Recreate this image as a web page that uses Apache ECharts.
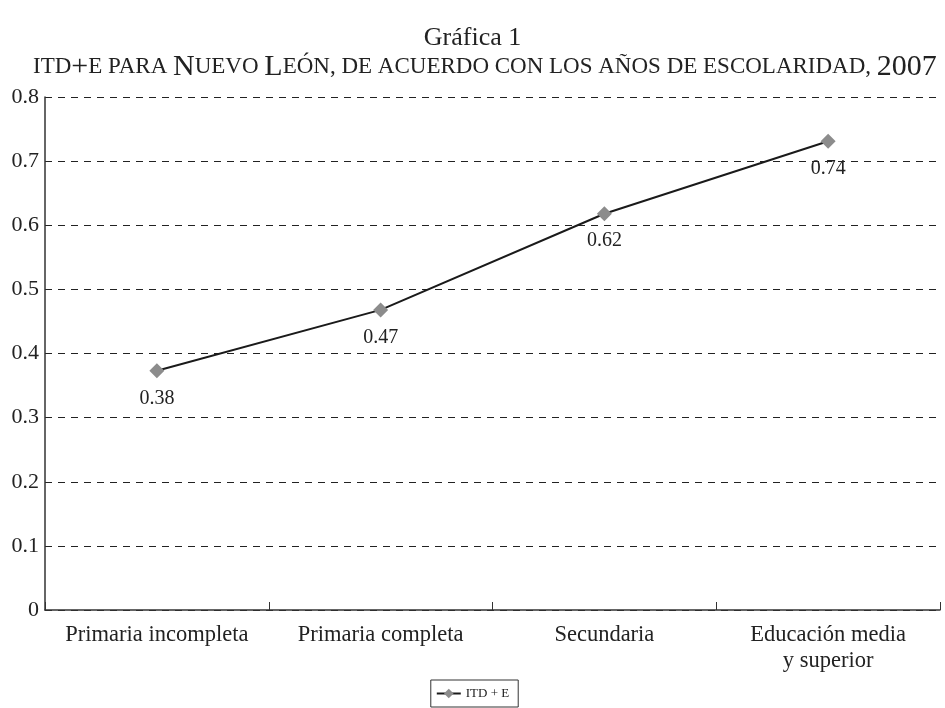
<!DOCTYPE html>
<html lang='es'>
  <head>
    <meta charset='utf-8'>
    <title>Gráfica 1</title>
    <style>
      html, body { margin: 0; padding: 0; background: #fff; }
    </style>
  </head>
  <body>
    <div id="main" style="width:945px;height:708px;"></div>

    <script src="https://cdn.jsdelivr.net/npm/echarts@6/dist/echarts.min.js"></script>
    <script>
      // datos
      var categorias = ['Primaria incompleta', 'Primaria completa', 'Secundaria', 'Educación media\ny superior'];
      var valores = [0.373, 0.468, 0.618, 0.731];
      var etiquetas = ['0.38', '0.47', '0.62', '0.74'];
      var serieNombre = 'ITD + E';

      var fuente = '"Liberation Serif", "DejaVu Serif", serif';

      var myChart = echarts.init(document.getElementById('main'));

      var option = {
        backgroundColor: '#fff',
        animation: false,
        title: [{
          text: 'Gráfica 1',
          left: 'center',
          top: 20,
          textStyle: { fontFamily: fuente, fontSize: 26, fontWeight: 'normal', color: '#222' }
        }, {
          // versalitas simuladas con texto enriquecido
          text: '{s|ITD}{b|+}{s|E PARA }{b|N}{s|UEVO }{b|L}{s|EÓN, DE ACUERDO CON LOS AÑOS DE ESCOLARIDAD, }{b|2007}',
          left: 28,
          top: 47,
          textStyle: {
            fontFamily: fuente,
            fontWeight: 'normal',
            rich: {
              s: { fontFamily: fuente, fontSize: 23, fontWeight: 'normal', color: '#222' },
              b: { fontFamily: fuente, fontSize: 30, fontWeight: 'normal', color: '#222' }
            }
          }
        }],
        legend: {
          top: 680,
          left: 'center',
          data: [serieNombre],
          itemWidth: 24,
          itemHeight: 12,
          itemGap: 6,
          borderColor: '#333',
          borderWidth: 1,
          borderRadius: 0,
          padding: [7, 9, 7, 5],
          textStyle: { fontFamily: fuente, fontSize: 13, color: '#222' }
        },
        grid: {
          left: 45,
          right: 5,
          top: 97,
          bottom: 98,
          containLabel: false
        },
        xAxis: {
          type: 'category',
          data: categorias,
          boundaryGap: true,
          axisLine: { lineStyle: { color: '#333', width: 1.5 } },
          axisTick: { show: true, inside: true, length: 8, lineStyle: { color: '#333' } },
          axisLabel: {
            fontFamily: fuente,
            fontSize: 22.5,
            color: '#222',
            margin: 12,
            lineHeight: 26,
            interval: 0
          }
        },
        yAxis: {
          type: 'value',
          min: 0,
          max: 0.8,
          interval: 0.1,
          axisLine: { show: true, lineStyle: { color: '#333', width: 1.5 } },
          axisTick: { show: false },
          axisLabel: {
            fontFamily: fuente,
            fontSize: 22,
            color: '#222',
            margin: 6,
            formatter: function(v) { return v === 0 ? '0' : v.toFixed(1); }
          },
          splitLine: { lineStyle: { color: '#222', width: 1.2, type: [7, 6] } }
        },
        series: [{
          name: serieNombre,
          type: 'line',
          data: valores,
          symbol: 'diamond',
          symbolSize: 15,
          itemStyle: { color: '#8c8c8c' },
          lineStyle: { color: '#1a1a1a', width: 2 },
          label: {
            show: true,
            position: 'bottom',
            distance: 10,
            fontFamily: fuente,
            fontSize: 20,
            color: '#222',
            formatter: function(p) { return etiquetas[p.dataIndex]; }
          }
        }]
      };

      myChart.setOption(option);
    </script>
  </body>
</html>
